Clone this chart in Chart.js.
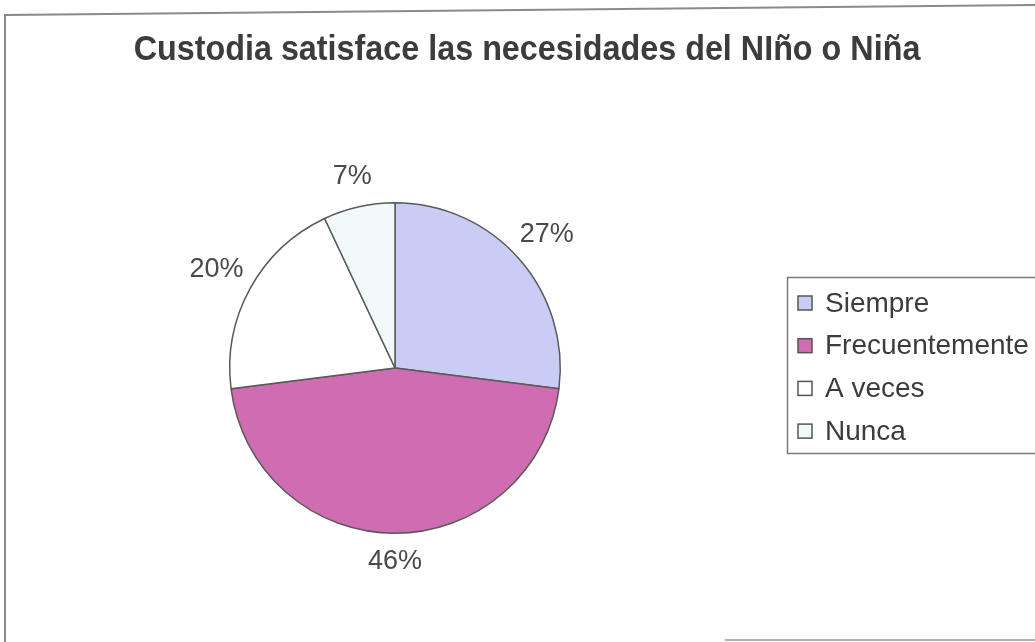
<!DOCTYPE html>
<html>
<head>
<meta charset="utf-8">
<script src="https://cdn.jsdelivr.net/npm/chart.js@4"></script>
<style>
  html, body { margin: 0; padding: 0; background: #ffffff; }
  #wrap { position: relative; width: 1035px; height: 642px; }
</style>
</head>
<body>
<div id="wrap"><canvas id="chartCanvas" width="1035" height="642"></canvas></div>
<script>
// datos
const titulo = 'Custodia satisface las necesidades del NIño o Niña';
const categorias = ['Siempre', 'Frecuentemente', 'A veces', 'Nunca'];
const porcentajes = [27, 46, 20, 7];
const colores = ['#c9cdf5', '#cf6cb2', '#ffffff', '#f1f9fb'];

const txtColor = '#3c3c3c';

// marco del grafico, titulo, etiquetas y leyenda
const extras = {
  id: 'extras',
  beforeDraw(chart) {
    const ctx = chart.ctx;
    ctx.save();
    ctx.fillStyle = '#ffffff';
    ctx.fillRect(0, 0, chart.width, chart.height);
    ctx.strokeStyle = '#8a8a8a';
    ctx.lineWidth = 2;
    ctx.beginPath();
    ctx.moveTo(5, 642);
    ctx.lineTo(5, 15);
    ctx.lineTo(1035, 5);
    ctx.stroke();
    ctx.strokeStyle = '#b0b0b0';
    ctx.beginPath();
    ctx.moveTo(725, 640);
    ctx.lineTo(1035, 640);
    ctx.stroke();
    ctx.restore();
  },
  afterDraw(chart) {
    const ctx = chart.ctx;
    ctx.save();

    // titulo (un poco mas alto que ancho, como en el escaneo)
    ctx.fillStyle = txtColor;
    ctx.font = 'bold 32px "Liberation Sans", Arial, sans-serif';
    ctx.textAlign = 'center';
    ctx.textBaseline = 'middle';
    ctx.save();
    ctx.translate(527, 50);
    ctx.scale(1.01, 1.08);
    ctx.fillText(titulo, 0, 0);
    ctx.restore();

    // porcentajes fuera de la torta
    const meta = chart.getDatasetMeta(0);
    ctx.font = '27px "Liberation Sans", Arial, sans-serif';
    ctx.fillStyle = '#4a4a4a';
    meta.data.forEach((arc, i) => {
      const mid = (arc.startAngle + arc.endAngle) / 2;
      const d = arc.outerRadius + 28 + 12 * Math.abs(Math.cos(mid));
      const x = arc.x + Math.cos(mid) * d;
      const y = arc.y + Math.sin(mid) * d;
      ctx.fillText(porcentajes[i] + '%', x, y);
    });

    // leyenda
    ctx.strokeStyle = '#7a7a7a';
    ctx.lineWidth = 1.5;
    ctx.strokeRect(787.5, 277.5, 260, 176);
    ctx.font = '28px "Liberation Sans", Arial, sans-serif';
    ctx.textAlign = 'left';
    categorias.forEach((cat, i) => {
      const y = 303 + i * 42.7;
      ctx.fillStyle = colores[i];
      ctx.fillRect(798, y - 7, 14, 14);
      ctx.strokeStyle = '#555555';
      ctx.lineWidth = 1.5;
      ctx.strokeRect(798, y - 7, 14, 14);
      ctx.fillStyle = txtColor;
      ctx.fillText(cat, 825, y + 1);
    });

    ctx.restore();
  }
};

const chartCanvas = document.getElementById('chartCanvas');
const chart = new Chart(chartCanvas.getContext('2d'), {
  type: 'pie',
  data: {
    labels: categorias,
    datasets: [
      {
        data: porcentajes,
        backgroundColor: colores,
        borderColor: '#5a5a5a',
        borderWidth: 1.5,
      },
    ],
  },
  options: {
    responsive: false,
    animation: false,
    layout: {
      padding: { top: 202, bottom: 108, left: 0, right: 245 },
    },
    plugins: {
      legend: { display: false },
      title: { display: false },
      tooltip: { enabled: false },
    },
  },
  plugins: [extras],
});
</script>
</body>
</html>
